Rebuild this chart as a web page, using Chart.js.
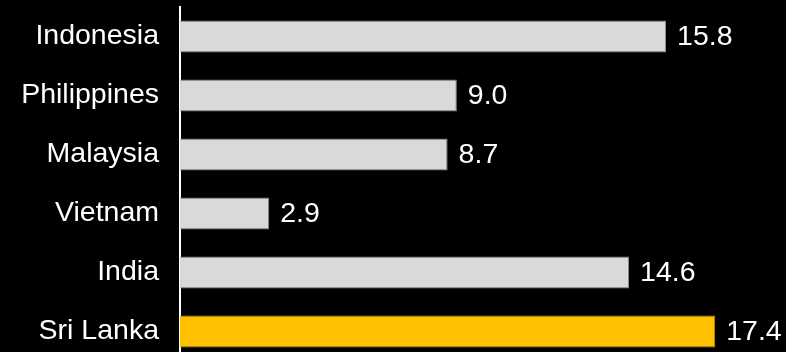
<!DOCTYPE html>
<html>
<head>
<meta charset="utf-8">
<script src="https://cdn.jsdelivr.net/npm/chart.js@4"></script>
<style>
  html, body { margin: 0; padding: 0; background: #000; overflow: hidden; }
  canvas { display: block; }
</style>
</head>
<body>
<canvas id="chart" width="786" height="361"></canvas>
<script>
const countries = ["Indonesia", "Philippines", "Malaysia", "Vietnam", "India", "Sri Lanka"]
const values = [15.8, 9.0, 8.7, 2.9, 14.6, 17.4]
const highlight = "Sri Lanka"

const GREY = "#d9d9d9"
const GREY_EDGE = "#8c8c8c"
const GOLD = "#ffc000"
const GOLD_EDGE = "#c09000"
const FONT = "'Liberation Sans', Arial, sans-serif"

// writes each value just past the end of its bar
const valueLabels = {
  id: "valueLabels",
  afterDatasetsDraw(chart) {
    const { ctx } = chart
    const meta = chart.getDatasetMeta(0)
    ctx.save()
    ctx.font = `28.5px ${FONT}`
    ctx.fillStyle = "#ffffff"
    ctx.textAlign = "left"
    ctx.textBaseline = "middle"
    meta.data.forEach((bar, i) => {
      ctx.fillText(values[i].toFixed(1), bar.x + 11, bar.y + 1)
    })
    ctx.restore()
  }
}

new Chart(document.getElementById("chart"), {
  type: "bar",
  data: {
    labels: countries,
    datasets: [{
      data: values,
      backgroundColor: countries.map(c => c === highlight ? GOLD : GREY),
      borderColor: countries.map(c => c === highlight ? GOLD_EDGE : GREY_EDGE),
      borderWidth: 1,
      borderSkipped: "left",
      categoryPercentage: 1,
      barPercentage: 0.545
    }]
  },
  options: {
    indexAxis: "y",
    responsive: false,
    animation: false,
    layout: { padding: { top: 7, right: 0, bottom: 0, left: 0 } },
    plugins: {
      legend: { display: false },
      tooltip: { enabled: false }
    },
    scales: {
      x: {
        display: false,
        min: 0,
        max: 19.7
      },
      y: {
        afterFit: (scale) => {
          scale.width = 180
          scale.paddingTop = 0
          scale.paddingBottom = 0
        },
        grid: { display: false, drawTicks: false },
        border: { display: true, color: "#ffffff", width: 2 },
        ticks: {
          padding: 21,
          color: "#ffffff",
          font: { family: FONT, size: 28.5 }
        }
      }
    }
  },
  plugins: [valueLabels]
})
</script>
</body>
</html>
